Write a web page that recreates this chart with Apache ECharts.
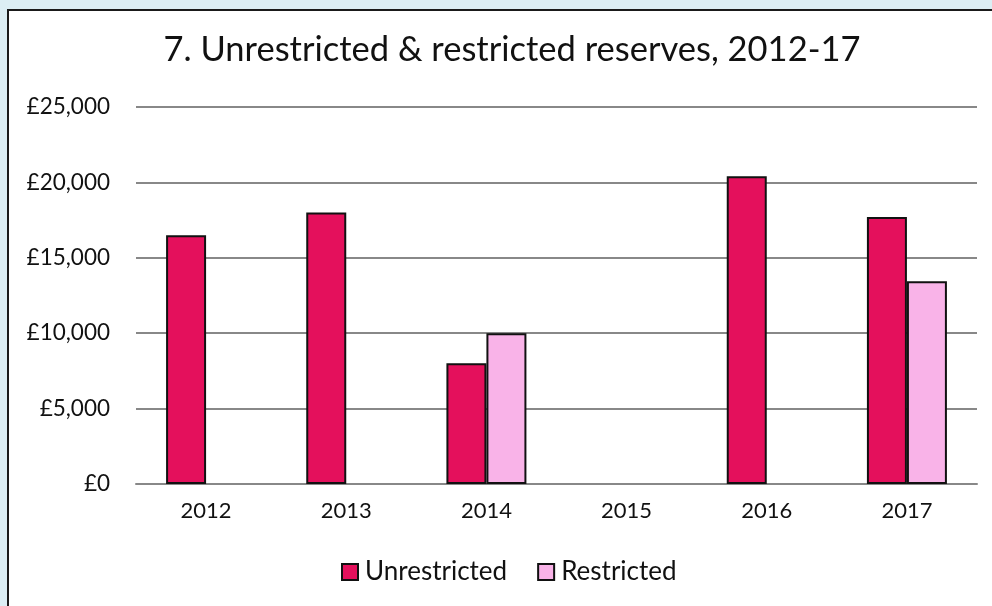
<!DOCTYPE html>
<html>
<head>
<meta charset="utf-8">
<script src="https://cdn.jsdelivr.net/npm/echarts@6/dist/echarts.min.js"></script>
<style>
  html, body { margin: 0; padding: 0; background: #dceef4; }
  #chart { width: 992px; height: 606px; }
</style>
</head>
<body>
<div id="chart"></div>
<script>
// data
let years = ['2012', '2013', '2014', '2015', '2016', '2017']
let unrestricted = [16500, 18000, 8000, null, 20400, 17700]
let restricted = [null, null, 10000, null, null, 13450]
let yTicks = [0, 5000, 10000, 15000, 20000, 25000]

let font = 'Lato'

function money(v) {
    return '£' + Number(v).toLocaleString('en-GB')
}

let myChart = echarts.init(document.getElementById('chart'))

let option = {
    backgroundColor: '#dceef4',
    textStyle: { fontFamily: font },
    graphic: [{
        type: 'rect',
        z: -10,
        shape: { x: 8, y: 10, width: 1000, height: 700 },
        style: { fill: '#ffffff', stroke: '#1a1a1a', lineWidth: 2 }
    }],
    title: {
        text: '7. Unrestricted & restricted reserves, 2012-17',
        left: 507,
        textAlign: 'center',
        top: 27,
        textStyle: {
            color: '#111',
            fontFamily: font,
            fontWeight: 'normal',
            fontSize: 34.5
        }
    },
    legend: {
        bottom: 16,
        left: 336,
        itemWidth: 16,
        itemHeight: 16,
        itemGap: 30,
        icon: 'rect',
        textStyle: { color: '#111', fontSize: 26, fontFamily: font, padding: [0, 0, 0, 2] },
        data: ['Unrestricted', 'Restricted']
    },
    grid: {
        left: 136,
        right: 15,
        top: 107,
        bottom: 122
    },
    xAxis: {
        type: 'category',
        data: years,
        axisTick: { show: false },
        axisLine: { lineStyle: { color: '#888', width: 2 } },
        axisLabel: { color: '#111', fontSize: 22, margin: 16, fontFamily: font }
    },
    yAxis: {
        type: 'value',
        min: yTicks[0],
        max: yTicks[yTicks.length - 1],
        interval: 5000,
        axisLine: { show: false },
        axisTick: { show: false },
        splitLine: { lineStyle: { color: '#888', width: 2 } },
        axisLabel: {
            color: '#111',
            fontSize: 22.5,
            margin: 26,
            fontFamily: font,
            formatter: money
        }
    },
    series: [
        {
            name: 'Unrestricted',
            type: 'bar',
            data: unrestricted,
            barWidth: 40,
            barGap: '0%',
            itemStyle: { color: '#e4105c', borderColor: '#111', borderWidth: 2 }
        },
        {
            name: 'Restricted',
            type: 'bar',
            data: restricted,
            barWidth: 40,
            barGap: '0%',
            itemStyle: { color: '#f9b3e8', borderColor: '#111', borderWidth: 2 }
        }
    ]
}

myChart.setOption(option)
</script>
</body>
</html>
